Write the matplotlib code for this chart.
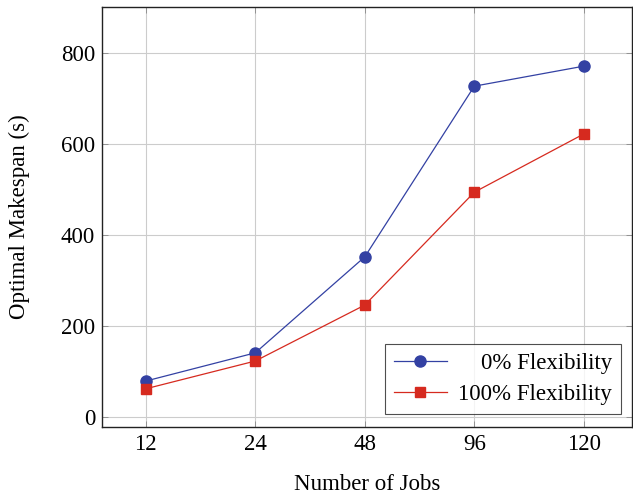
import matplotlib
matplotlib.use("Agg")
import matplotlib.pyplot as plt

categories = ["12", "24", "48", "96", "120"]
flex0 = [79, 141, 352, 727, 771]
flex100 = [62, 123, 246, 494, 622]
yticks = [0, 200, 400, 600, 800]

plt.rcParams['font.family'] = ['Liberation Serif', 'DejaVu Serif']
plt.rcParams['mathtext.fontset'] = 'stix'

fig = plt.figure(figsize=(6.33, 4.99), dpi=100)
ax = fig.add_axes([102/633, 1-427/499, (632-102)/633, (427-7)/499])

x = list(range(len(categories)))
blue = '#3341a3'
red = '#d62a1f'
ax.plot(x, flex0, color=blue, lw=0.9, marker='o', ms=8, label='    0% Flexibility', zorder=3)
ax.plot(x, flex100, color=red, lw=0.9, marker='s', ms=7.5, label='100% Flexibility', zorder=3)

ax.set_xlim(-0.4, 4.44)
ax.set_ylim(-22, 901)
ax.set_xticks(x)
ax.set_xticklabels(categories)
ax.set_yticks(yticks)
ax.grid(True, color='#cccccc', lw=0.8)
ax.set_axisbelow(True)
ax.tick_params(direction='in', top=True, right=True, length=4, width=0.6, color='#888888', labelsize=16.5, pad=5)
for s in ax.spines.values():
    s.set_linewidth(1.0)
    s.set_color('#222222')

ax.set_xlabel('Number of Jobs', fontsize=16.5, labelpad=14)
ax.set_ylabel('Optimal Makespan (s)', fontsize=16.5, labelpad=22)

leg = ax.legend(loc='lower right', bbox_to_anchor=(0.98, 0.03), fontsize=16.5, frameon=True, fancybox=False,
                edgecolor='#222222', handlelength=2.3, borderpad=0.4, labelspacing=0.45, handletextpad=0.5,
                borderaxespad=0)
leg.get_frame().set_linewidth(0.8)

fig.savefig('out.png', dpi=100)
